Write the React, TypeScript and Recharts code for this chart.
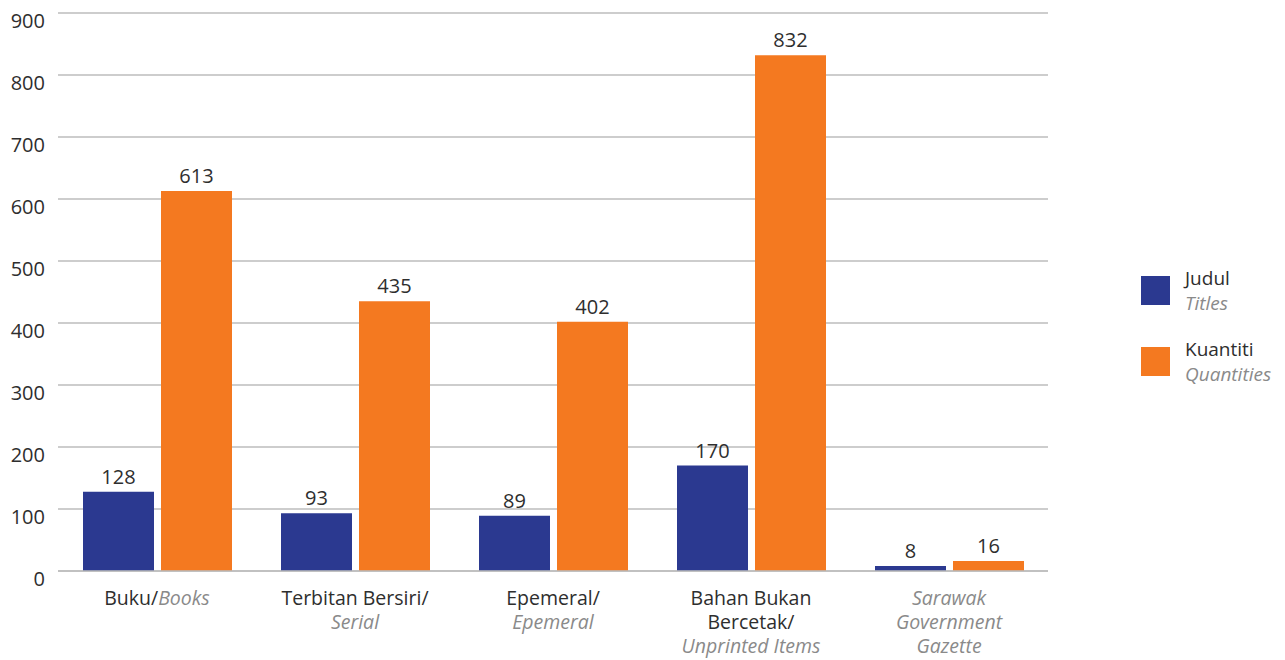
import { BarChart, Bar, XAxis, YAxis, CartesianGrid, LabelList } from "recharts";

const categories = ["Buku", "Terbitan Bersiri", "Epemeral", "Bahan Bukan Bercetak", "Sarawak Government Gazette"];
const categoryLines = [
  [{ ms: "Buku/", en: "Books" }],
  [{ ms: "Terbitan Bersiri/" }, { en: "Serial" }],
  [{ ms: "Epemeral/" }, { en: "Epemeral" }],
  [{ ms: "Bahan Bukan" }, { ms: "Bercetak/" }, { en: "Unprinted Items" }],
  [{ en: "Sarawak" }, { en: "Government" }, { en: "Gazette" }],
];
const titles = [128, 93, 89, 170, 8];
const quantities = [613, 435, 402, 832, 16];
const yTicks = [0, 100, 200, 300, 400, 500, 600, 700, 800, 900];

const seriesMs = ["Judul", "Kuantiti"];
const seriesEn = ["Titles", "Quantities"];
const COLORS = ["#2b3990", "#f47920"];

const FONT = "'Open Sans', sans-serif";
const DARK = "#2e2e2e";
const GREY = "#8a8a8a";

const data = categories.map((c, i) => ({ name: c, idx: i, titles: titles[i], quantities: quantities[i] }));

const YTick = ({ x, y, payload }: any) => (
  <text x={x} y={y} dy={15} textAnchor="end" fontSize={20} fill={DARK} fontFamily={FONT}>
    {payload.value}
  </text>
);

const XTick = ({ x, y, payload }: any) => {
  const lines = categoryLines[payload.index] || [];
  return (
    <g>
      {lines.map((ln: any, i: number) => (
        <text key={i} x={x} y={y + 26 + i * 24} textAnchor="middle" fontSize={19.5} fontFamily={FONT}>
          {ln.ms && <tspan fill={DARK}>{ln.ms}</tspan>}
          {ln.en && (
            <tspan fill={GREY} fontStyle="italic">
              {ln.en}
            </tspan>
          )}
        </text>
      ))}
    </g>
  );
};

const App = () => {
  return (
    <div style={{ position: "absolute", left: 0, top: 0, width: 1285, height: 660, background: "#fff" }}>
      <BarChart
        width={1285}
        height={660}
        data={data}
        margin={{ top: 13, right: 237, bottom: 0, left: 0 }}
        barCategoryGap={25}
        barGap={7}
      >
        <CartesianGrid vertical={false} stroke="#bcbcbc" strokeWidth={1.5} />
        <XAxis
          dataKey="name"
          axisLine={{ stroke: "#bcbcbc", strokeWidth: 1.5 }}
          tickLine={false}
          interval={0}
          tick={<XTick />}
          height={89}
        />
        <YAxis
          width={58}
          domain={[0, 900]}
          ticks={yTicks}
          axisLine={false}
          tickLine={false}
          tickMargin={7}
          tick={<YTick />}
        />
        <Bar dataKey="titles" fill={COLORS[0]} isAnimationActive={false}>
          <LabelList dataKey="titles" position="top" offset={8} fill={DARK} fontSize={20} fontFamily={FONT} />
        </Bar>
        <Bar dataKey="quantities" fill={COLORS[1]} isAnimationActive={false}>
          <LabelList dataKey="quantities" position="top" offset={8} fill={DARK} fontSize={20} fontFamily={FONT} />
        </Bar>
      </BarChart>
      {seriesMs.map((s, i) => (
        <div
          key={s}
          style={{ position: "absolute", left: 1141, top: 270 + i * 71, display: "flex", fontFamily: FONT }}
        >
          <div style={{ width: 29, height: 29, background: COLORS[i], marginTop: 6 }} />
          <div style={{ marginLeft: 15, marginTop: -4, lineHeight: "25px", fontSize: 19 }}>
            <div style={{ color: DARK }}>{s}</div>
            <div style={{ color: GREY, fontStyle: "italic" }}>{seriesEn[i]}</div>
          </div>
        </div>
      ))}
    </div>
  );
};

export default App;
